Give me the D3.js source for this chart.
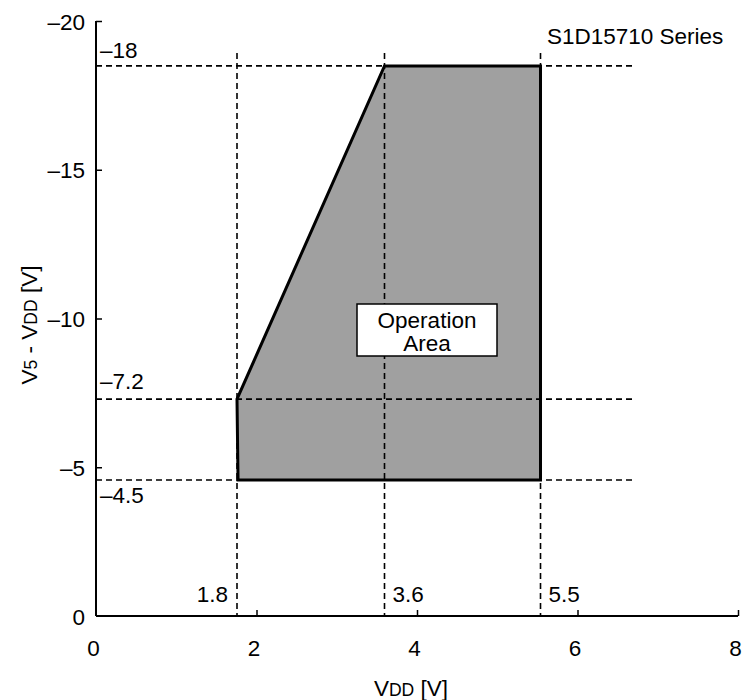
<!DOCTYPE html>
<html><head><meta charset="utf-8">
<script src="https://cdn.jsdelivr.net/npm/d3@7"></script>
<style>body{margin:0;background:#fff}svg text{font-family:"Liberation Sans",Arial,sans-serif;fill:#000}</style>
</head><body><svg id="c" width="746" height="700"></svg>
<script>
// data
const xTicks = [0, 2, 4, 6, 8];
const yTicks = [0, -5, -10, -15, -20];
const xMarkValues = [1.757, 3.595, 5.539];
const xMarkLabels = ["1.8", "3.6", "5.5"];
const yMarkValues = [-18.49, -7.29, -4.57];
const yMarkLabels = ["\u201318", "\u20137.2", "\u20134.5"];
const areaX = [1.77, 1.757, 3.595, 5.539, 5.539];
const areaY = [-4.57, -7.29, -18.49, -18.49, -4.57];
const seriesLabel = "S1D15710 Series";
const areaLabel = ["Operation", "Area"];

const svg = d3.select("#c");
const x = d3.scaleLinear().domain([0, 8]).range([96, 738]);
const y = d3.scaleLinear().domain([0, -20]).range([616, 21]);
const fs = 22.5;
const fmt = v => String(v).replace("-", "\u2013");

// polygon
const pts = areaX.map((v, i) => [x(v), y(areaY[i])]);
svg.append("path").attr("d", d3.line()(pts) + "Z")
  .attr("fill", "#a0a0a0").attr("stroke", "#000").attr("stroke-width", 3).attr("stroke-linejoin", "miter");

// dashed lines
svg.selectAll(".vd").data(xMarkValues).join("line")
  .attr("x1", d => x(d)).attr("x2", d => x(d)).attr("y1", 53).attr("y2", y(0))
  .attr("stroke", "#000").attr("stroke-width", 1.6).attr("stroke-dasharray", "6,4");
svg.selectAll(".hd").data(yMarkValues).join("line")
  .attr("x1", x(0)).attr("x2", 632).attr("y1", d => y(d)).attr("y2", d => y(d))
  .attr("stroke", "#000").attr("stroke-width", 1.6).attr("stroke-dasharray", "6,4");

// axes
const xAxis = d3.axisBottom(x).tickValues(xTicks).tickSize(-6).tickPadding(24).tickFormat(fmt);
const gx = svg.append("g").attr("transform", `translate(0,${y(0)})`).call(xAxis);
const yAxis = d3.axisLeft(y).tickValues(yTicks).tickSize(-6).tickPadding(11).tickFormat(fmt);
const gy = svg.append("g").attr("transform", `translate(${x(0)},0)`).call(yAxis);
[gx, gy].forEach(g => {
  g.select(".domain").attr("stroke-width", 2);
  g.selectAll(".tick line").attr("stroke-width", 1.5);
  g.selectAll(".tick text").attr("font-size", fs).attr("font-family", "Liberation Sans, Arial, sans-serif");
});
gx.select(".domain").attr("d", `M${x(0)},0H${x(8)}`);
gy.select(".domain").attr("d", `M0,${y(0)}V${y(-20)}`);
gx.selectAll(".tick text").attr("dx", -3);
gy.selectAll(".tick text").attr("dy", "0.36em");
gx.selectAll(".tick").filter(d => d === 0).select("line").remove();
gy.selectAll(".tick").filter(d => d === 0).select("line").remove();

// mark labels
const yOff = [-8, -10, 23];
svg.selectAll(".yl").data(yMarkValues).join("text")
  .attr("x", 100).attr("y", (d, i) => y(d) + yOff[i]).attr("font-size", fs).text((d, i) => yMarkLabels[i]);
svg.selectAll(".xl").data(xMarkValues).join("text")
  .attr("x", (d, i) => i === 0 ? x(d) - 9 : x(d) + 8).attr("y", 602)
  .attr("text-anchor", (d, i) => i === 0 ? "end" : "start").attr("font-size", fs).text((d, i) => xMarkLabels[i]);

// series label
svg.append("text").attr("x", 547).attr("y", 44).attr("font-size", fs).text(seriesLabel);

// operation area box
svg.append("rect").attr("x", 357).attr("y", 304).attr("width", 140).attr("height", 52)
  .attr("fill", "#fff").attr("stroke", "#000").attr("stroke-width", 1.5);
svg.append("text").attr("x", 427).attr("y", 328).attr("text-anchor", "middle").attr("font-size", fs).text(areaLabel[0]);
svg.append("text").attr("x", 427).attr("y", 351).attr("text-anchor", "middle").attr("font-size", fs).text(areaLabel[1]);

// axis titles
const xt = svg.append("text").attr("x", 411).attr("y", 696).attr("text-anchor", "middle").attr("font-size", fs);
xt.append("tspan").text("V");
xt.append("tspan").attr("font-size", fs * 0.78).text("DD");
xt.append("tspan").text(" [V]");
const yt = svg.append("text").attr("transform", "translate(37,325) rotate(-90)").attr("text-anchor", "middle").attr("font-size", fs);
yt.append("tspan").text("V");
yt.append("tspan").attr("font-size", fs * 0.78).text("5");
yt.append("tspan").text(" - V");
yt.append("tspan").attr("font-size", fs * 0.78).text("DD");
yt.append("tspan").text(" [V]");
</script></body></html>
